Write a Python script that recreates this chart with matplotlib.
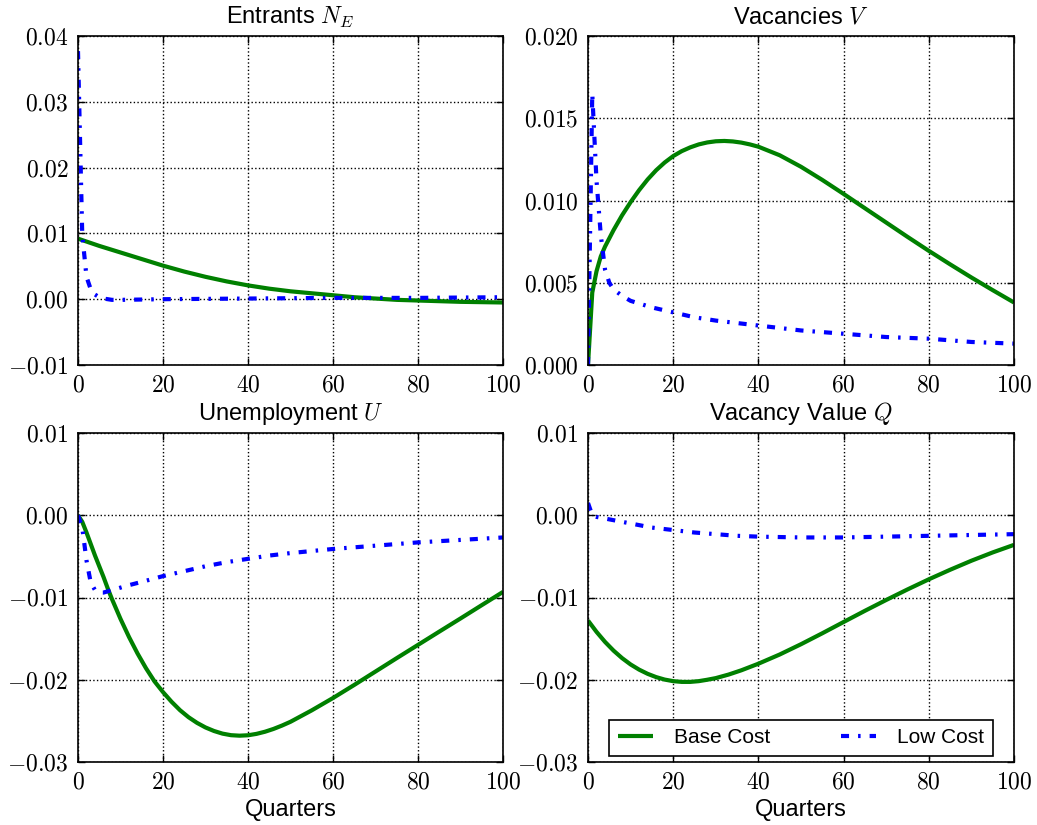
import matplotlib
matplotlib.use("Agg")
import matplotlib.pyplot as plt
from matplotlib.ticker import FuncFormatter, MultipleLocator

plt.rcParams['font.family'] = ['Liberation Sans', 'DejaVu Sans']
plt.rcParams['mathtext.fontset'] = 'cm'
plt.rcParams['lines.scale_dashes'] = False

# ---------------- data ----------------
labels = ["Base Cost", "Low Cost"]
titles = ["Entrants $N_E$", "Vacancies $V$", "Unemployment $U$", "Vacancy Value $Q$"]

# Entrants N_E
ne_base_x = [0, 5, 10, 15, 20, 25, 30, 35, 40, 45, 50, 55, 60, 65, 70, 75, 80, 90, 100]
ne_base_y = [0.0092, 0.0081, 0.0071, 0.0061, 0.0051, 0.0042, 0.0034, 0.0027, 0.0021,
             0.0016, 0.0012, 0.0009, 0.0006, 0.0003, 0.0001, -0.0001, -0.0002,
             -0.0004, -0.0005]
ne_low_x = [0, 1, 2, 3, 4, 5, 6, 8, 10, 20, 40, 60, 80, 100]
ne_low_y = [0.0377, 0.0098, 0.0034, 0.0015, 0.0007, 0.0003, 0.0001, -0.0001, -0.0001,
            0.0000, 0.0001, 0.0002, 0.0002, 0.0003]

# Vacancies V
v_base_x = [0, 1, 2, 3, 4, 5, 6, 8, 10, 12, 14, 16, 18, 20, 22, 24, 26, 28, 30, 32, 34,
            36, 38, 40, 45, 50, 55, 60, 65, 70, 75, 80, 85, 90, 95, 100]
v_base_y = [0.0, 0.0044, 0.0057, 0.0066, 0.0072, 0.0077, 0.0082, 0.0091, 0.0099,
            0.01063, 0.01128, 0.01184, 0.01231, 0.01270, 0.01300, 0.01323, 0.01341,
            0.01353, 0.01360, 0.01362, 0.01359, 0.01352, 0.01341, 0.01327, 0.01275,
            0.01205, 0.01125, 0.01040, 0.00953, 0.00866, 0.00779, 0.00694, 0.00612,
            0.00532, 0.00455, 0.00380]
v_low_x = [0, 1, 2, 3, 4, 5, 6, 8, 10, 15, 20, 25, 30, 40, 50, 60, 70, 80, 90, 100]
v_low_y = [0.0, 0.0165, 0.0112, 0.0079, 0.0058, 0.0050, 0.0046, 0.0042, 0.0039, 0.0035,
           0.0032, 0.0029, 0.0027, 0.0024, 0.0021, 0.0019, 0.0017, 0.0016, 0.0014, 0.0013]

# Unemployment U
u_base_x = [0, 1, 2, 3, 4, 5, 6, 7, 8, 10, 12, 14, 16, 18, 20, 22, 24, 26, 28, 30, 32,
            34, 36, 38, 40, 42, 44, 46, 48, 50, 55, 60, 65, 70, 75, 80, 85, 90, 95, 100]
u_base_y = [0.0, -0.0008, -0.0021, -0.0035, -0.0049, -0.0062, -0.0075, -0.0089, -0.0102,
            -0.0126, -0.0148, -0.0168, -0.0186, -0.0202, -0.02150, -0.02267, -0.02370,
            -0.02455, -0.02524, -0.02580, -0.02623, -0.02655, -0.02674, -0.02680,
            -0.02675, -0.02658, -0.02632, -0.02598, -0.02557, -0.02511, -0.02372,
            -0.02222, -0.02063, -0.01900, -0.01737, -0.01576, -0.01415, -0.01255,
            -0.01093, -0.00932]
u_low_x = [0, 1, 2, 3, 4, 5, 6, 8, 10, 12, 15, 20, 25, 30, 35, 40, 45, 50, 60, 70, 80,
           90, 100]
u_low_y = [0.0, -0.0015, -0.0055, -0.0082, -0.0091, -0.0094, -0.0094, -0.0091, -0.0088,
           -0.0085, -0.0081, -0.0074, -0.0068, -0.0062, -0.0057, -0.0053, -0.0049,
           -0.0046, -0.0041, -0.0037, -0.0033, -0.0030, -0.0027]

# Vacancy value Q
q_base_x = [0, 2, 4, 6, 8, 10, 12, 14, 16, 18, 20, 22, 24, 26, 28, 30, 33, 36, 40, 45,
            50, 55, 60, 65, 70, 75, 80, 85, 90, 95, 100]
q_base_y = [-0.01280, -0.01418, -0.01540, -0.01646, -0.01737, -0.01814, -0.01877,
            -0.01928, -0.01968, -0.01998, -0.02017, -0.02026, -0.02026, -0.02017,
            -0.02000, -0.01980, -0.01937, -0.01885, -0.01805, -0.01693, -0.01568,
            -0.01435, -0.01298, -0.01162, -0.01030, -0.00902, -0.00779, -0.00663,
            -0.00553, -0.00452, -0.00360]
q_low_x = [0, 1, 2, 4, 6, 8, 10, 12, 15, 20, 25, 30, 35, 40, 50, 60, 70, 80, 90, 100]
q_low_y = [0.0015, 0.0000, -0.0002, -0.0004, -0.0006, -0.0008, -0.0010, -0.0012,
           -0.0015, -0.0018, -0.0021, -0.0023, -0.0025, -0.0026, -0.0027, -0.0027,
           -0.0026, -0.0025, -0.0024, -0.0023]

x_ticks = [0, 20, 40, 60, 80, 100]
ylims = [(-0.01, 0.04), (0.0, 0.02), (-0.03, 0.01), (-0.03, 0.01)]
ysteps = [0.01, 0.005, 0.01, 0.01]
ydecimals = [2, 3, 2, 2]

series = [
    (ne_base_x, ne_base_y, ne_low_x, ne_low_y),
    (v_base_x, v_base_y, v_low_x, v_low_y),
    (u_base_x, u_base_y, u_low_x, u_low_y),
    (q_base_x, q_base_y, q_low_x, q_low_y),
]

# ---------------- figure ----------------
W, H = 1037, 825
fig = plt.figure(figsize=(W / 100, H / 100), dpi=100, facecolor='white')

boxes = [
    (78, 36, 503, 365),
    (588, 36, 1014, 365),
    (78, 433, 503, 762),
    (588, 433, 1014, 762),
]

dashdot = (0, (5.8, 6.5, 1.8, 6.5))


def make_fmt(dec):
    def f(v, p):
        s = f"{v:.{dec}f}"
        if float(s) == 0:
            s = f"{0:.{dec}f}"
        return f"${s}$"
    return f


axes = []
for i, (l, t, r, b) in enumerate(boxes):
    ax = fig.add_axes([l / W, 1 - b / H, (r - l) / W, (b - t) / H])
    bx, by, lx, ly = series[i]
    ax.plot(bx, by, color='green', lw=3, solid_capstyle='butt', label=labels[0])
    ax.plot(lx, ly, color='blue', lw=3, linestyle=dashdot, dash_capstyle='butt',
            label=labels[1])
    ax.set_xlim(0, 100)
    ax.set_ylim(*ylims[i])
    ax.set_xticks(x_ticks)
    ax.yaxis.set_major_locator(MultipleLocator(ysteps[i]))
    ax.xaxis.set_major_formatter(FuncFormatter(lambda v, p: f"${v:.0f}$"))
    ax.yaxis.set_major_formatter(FuncFormatter(make_fmt(ydecimals[i])))
    ax.tick_params(direction='in', top=True, right=True, length=5, width=1,
                   labelsize=17, pad=7)
    ax.grid(True, color='black', linestyle=':', linewidth=1)
    for sp in ax.spines.values():
        sp.set_linewidth(1.2)
    ax.set_title(titles[i], fontsize=17, pad=9)
    if i >= 2:
        ax.set_xlabel("Quarters", fontsize=17, labelpad=4)
    axes.append(ax)

leg = axes[3].legend(loc='lower center', ncol=2, fontsize=15, handlelength=1.7,
                     handletextpad=1.0, columnspacing=3.4, fancybox=False,
                     framealpha=1, borderaxespad=0.3)
leg.get_frame().set_edgecolor('black')
leg.get_frame().set_linewidth(1.2)

fig.savefig("out.png", dpi=100, facecolor='white')
